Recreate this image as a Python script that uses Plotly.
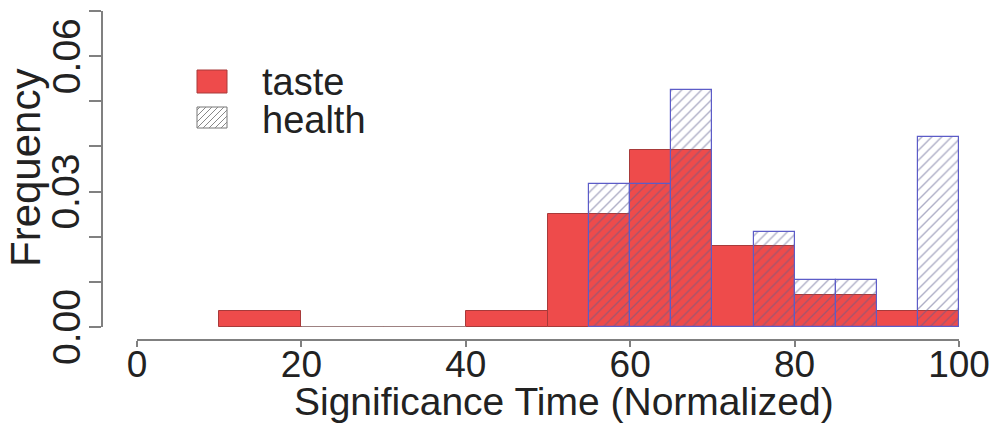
import plotly.graph_objects as go

# ---- data (densities) ----
taste_left = [10, 20, 30, 40, 50, 60, 70, 80, 90]
taste_right = [20, 30, 40, 50, 60, 70, 80, 90, 100]
taste_density = [0.0036, 0.0, 0.0, 0.0036, 0.0250, 0.0393, 0.0179, 0.0071, 0.0036]

health_left = [55, 60, 65, 70, 75, 80, 85, 90, 95]
health_right = [60, 65, 70, 75, 80, 85, 90, 95, 100]
health_density = [0.0316, 0.0316, 0.0526, 0.0, 0.0210, 0.0105, 0.0105, 0.0, 0.0421]

x_ticks = [0, 20, 40, 60, 80, 100]
y_ticks = [0.00, 0.01, 0.02, 0.03, 0.04, 0.05, 0.06, 0.07]
y_labelled = [0.00, 0.03, 0.06]
y_labels = ["0.00", "0.03", "0.06"]

x_title = "Significance Time (Normalized)"
y_title = "Frequency"

W, H = 992, 424
RED = "#EE4B4B"
FONT = "Liberation Sans, Arial, sans-serif"
TXT = "#222222"

# pixel layout
L, R, T, B = 102, 33, 11, 84
x0_px, y0_px = 137, 327
pw, ph = W - L - R, H - T - B
xdom0 = (x0_px - L) / pw
ydom0 = ((H - B) - y0_px) / ph


def px(xp):
    return (xp - L) / pw


def py(yp):
    return ((H - B) - yp) / ph


def centers(lo, hi):
    return [(a + b) / 2 for a, b in zip(lo, hi)]


def widths(lo, hi):
    return [b - a for a, b in zip(lo, hi)]


fig = go.Figure()

# zero-height taste bins drawn as a baseline segment (R style)
zx, zy = [], []
for a, b, d in zip(taste_left, taste_right, taste_density):
    if d == 0:
        zx += [a, b, None]
        zy += [0, 0, None]
fig.add_trace(go.Scatter(x=zx, y=zy, mode="lines", line=dict(color="#9a9a9a", width=1.5),
                         showlegend=False, hoverinfo="skip"))

fig.add_trace(go.Bar(
    x=centers(taste_left, taste_right), y=taste_density, width=widths(taste_left, taste_right),
    marker=dict(color=RED, line=dict(color="#a83a3a", width=1)), name="taste", showlegend=False))

fig.add_trace(go.Bar(
    x=centers(health_left, health_right), y=health_density, width=widths(health_left, health_right),
    marker=dict(color="rgba(0,0,0,0)", line=dict(color="#5c5cc8", width=1.2),
                pattern=dict(shape="/", fgcolor="#5e5e8e", bgcolor="rgba(0,0,0,0)",
                             size=7, solidity=0.2, fillmode="overlay")),
    name="health", showlegend=False))

# custom legend (swatches in paper coordinates)
shapes = []
shapes.append(dict(type="rect", xref="paper", yref="paper", x0=px(197), x1=px(227), y0=py(93), y1=py(70),
                   fillcolor=RED, line=dict(color="#a83a3a", width=1)))
shapes.append(dict(type="rect", xref="paper", yref="paper", x0=px(197), x1=px(227), y0=py(128), y1=py(107),
                   fillcolor="rgba(0,0,0,0)", line=dict(color="#777777", width=1)))
for k in range(-3, 6):
    xa, ya = 197 + k * 6, 128
    xb, yb = xa + 21, 107
    if xa < 197:
        ya = 128 - (197 - xa); xa = 197
    if xb > 227:
        yb = 107 + (xb - 227); xb = 227
    if xa >= xb:
        continue
    shapes.append(dict(type="line", xref="paper", yref="paper", x0=px(xa), y0=py(ya), x1=px(xb), y1=py(yb),
                       line=dict(color="#888888", width=1)))

annotations = [
    dict(text="taste", xref="paper", yref="paper", x=px(260), y=py(82), xanchor="left", yanchor="middle",
         showarrow=False, font=dict(size=38, color=TXT, family=FONT)),
    dict(text="health", xref="paper", yref="paper", x=px(260), y=py(120), xanchor="left", yanchor="middle",
         showarrow=False, font=dict(size=38, color=TXT, family=FONT)),
    dict(text=x_title, xref="paper", yref="paper", x=px(564), y=py(401), xanchor="center", yanchor="middle",
         showarrow=False, font=dict(size=39, color=TXT, family=FONT)),
    dict(text=y_title, xref="paper", yref="paper", x=px(25), y=py(168), xanchor="center", yanchor="middle",
         textangle=-90, showarrow=False, font=dict(size=42, color=TXT, family=FONT)),
]
# rotated y tick labels (R style, parallel to the axis)
for v, t in zip(y_labelled, y_labels):
    annotations.append(dict(text=t, xref="paper", yref="y", x=px(66), y=v, xanchor="center",
                            yanchor="middle", textangle=-90, showarrow=False,
                            font=dict(size=39, color=TXT, family=FONT)))

fig.update_layout(
    width=W, height=H,
    margin=dict(l=L, r=R, t=T, b=B, pad=0, autoexpand=False),
    paper_bgcolor="white", plot_bgcolor="white",
    barmode="overlay", bargap=0, showlegend=False,
    font=dict(family=FONT, color=TXT),
    shapes=shapes, annotations=annotations,
    xaxis=dict(range=[0, 100], domain=[xdom0, 1], anchor="free", position=0, automargin=False,
               showline=True, linecolor="#808080", linewidth=1.5,
               ticks="outside", ticklen=6, tickcolor="#808080", tickwidth=1.5,
               tickvals=x_ticks, tickfont=dict(size=37, color=TXT), ticklabelstandoff=-14,
               showgrid=False, zeroline=False),
    yaxis=dict(range=[0, 0.07], domain=[ydom0, 1], anchor="free", position=0, automargin=False,
               showline=True, linecolor="#808080", linewidth=1.5,
               ticks="outside", ticklen=12, tickcolor="#808080", tickwidth=1.5,
               tickvals=y_ticks, showticklabels=False,
               showgrid=False, zeroline=False),
)

fig.write_html("out.html", config={"displayModeBar": False},
               post_script="document.body.style.margin='0px';document.body.style.padding='0px';")
